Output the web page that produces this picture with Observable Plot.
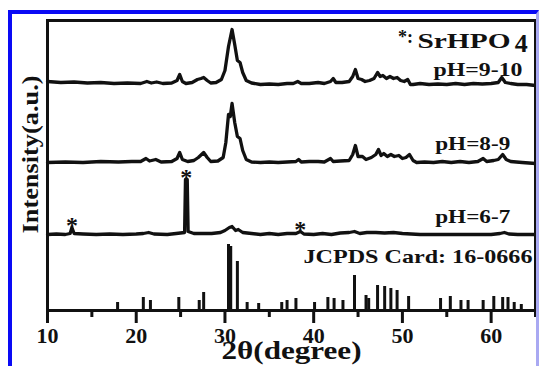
<!DOCTYPE html>
<html><head><meta charset="utf-8">
<script src="https://cdn.jsdelivr.net/npm/d3@7"></script>
<script src="https://cdn.jsdelivr.net/npm/@observablehq/plot@0.6"></script>
<style>
body{margin:0;background:#fff}
#wrap{position:relative;width:539px;height:366px;overflow:hidden;background:#fff}
#wrap svg{display:block;position:absolute;left:0;top:0}
#blue{position:absolute;left:8px;top:10px;width:531px;height:360px;box-sizing:border-box;border-left:4px solid #0a0af5;border-top:4px solid #0a0af5;border-right:3px solid #a9a9f2;pointer-events:none}
</style></head><body><div id="wrap"><div id="blue"></div></div>
<script>
// ---- data ----
const seriesNames = ["pH=9-10", "pH=8-9", "pH=6-7"];
const seriesOffsets = [226, 148, 76];

const ph910 = [[10,3],[11.5,2],[13,2.5],[14.5,1.5],[16,2],[17.5,1],[19,1.5],[20.5,1],[21.2,3],[21.7,1.5],[22.3,2.5],[23,1],[24,1.5],[24.6,4],[24.9,10],[25.2,3],[25.6,1],[26.3,2],[26.9,5],[27.3,6],[27.6,7],[28.0,4],[28.4,1.5],[29.0,2],[29.6,5],[30.0,14],[30.4,38],[30.8,55],[31.1,40],[31.4,24],[31.7,22],[32.0,12],[32.4,4],[33,1.5],[34,0],[35,0.5],[36,0],[37,1],[37.7,1],[38.2,3],[38.6,1],[39.5,1],[40.5,2],[41.2,1],[41.9,3],[42.2,6],[42.5,2],[43.2,2],[44,3],[44.4,8],[44.7,15],[45.0,6],[45.4,5],[45.8,3],[46.3,4],[46.8,6],[47.2,12],[47.5,8],[47.8,9],[48.2,6],[48.6,8],[49.0,6],[49.4,7],[49.8,4],[50.2,3],[50.6,5],[50.9,0],[51.2,0],[52,1],[53,0],[54,0.5],[55,0],[56,1],[57,0],[58,1],[59,0.5],[60,1],[60.8,2],[61.2,7],[61.6,2],[62.2,1],[63,0],[64,0],[65,-1]];

const ph89 = [[10,0],[12,0.5],[14,0],[16,1],[18,0.5],[19.5,1],[20.5,1],[21.1,4],[21.5,1.5],[22.2,3],[22.8,0.5],[24,1],[24.6,4],[24.9,10],[25.2,3],[25.8,1],[26.5,2],[27.0,5],[27.6,10],[28.0,5],[28.4,1],[29.2,1.5],[29.8,5],[30.1,20],[30.4,48],[30.6,46],[30.8,59],[31.1,40],[31.4,26],[31.7,24],[32.0,12],[32.4,3],[33,0.5],[34,0],[35,0.5],[36,0],[37,0.5],[38,1],[38.3,3],[38.6,0.5],[39.5,1],[40.5,1],[41.2,0.5],[41.9,4],[42.2,1],[43,1.5],[44,2],[44.4,8],[44.7,17],[45.0,6],[45.5,6],[45.9,3],[46.5,5],[47.0,8],[47.3,13],[47.6,7],[47.9,9],[48.3,6],[48.7,8],[49.1,6],[49.6,7],[50.0,4],[50.4,5],[50.8,8],[51.2,2],[51.6,0],[52.5,0.5],[53.5,0],[54.5,1],[55.5,0],[56.5,1],[57.5,0],[58.5,1],[59.1,4],[59.5,1],[60.3,2],[60.8,3],[61.3,8],[61.7,3],[62.2,1],[63.5,0],[65,-1]];

const ph67 = [[10,0],[11,0.5],[12,0],[12.55,1],[12.75,7],[13.0,1],[14,0.5],[15.5,0],[17,0.5],[18.5,0],[20,0.5],[20.8,1],[21.4,2],[22,0.5],[23.5,0],[24.5,1],[25.45,2],[25.55,55],[25.75,55],[25.85,3],[26.5,1],[27.5,1],[28.5,1],[29.5,2],[30.0,4],[30.5,7],[30.8,8],[31.2,4],[31.5,5],[32,2],[33,1],[34,0],[35,1],[36,0],[37,1],[38,1],[38.5,3],[38.9,0.5],[40,0],[41,1],[42,0],[43,1.5],[44,2],[44.6,3],[45.2,1],[46,2],[47,2],[48,1.5],[49,2],[50,1],[51,0.5],[52,0],[54,0],[56,0],[58,0],[60,0],[61,1],[61.5,2],[62,0.5],[63,0],[65,0]];

const jcpdsAngle = [17.9,20.8,21.6,24.8,27.1,27.6,30.4,30.65,31.4,32.5,33.8,36.4,37.0,38.0,40.1,41.6,42.3,43.3,44.6,45.9,46.2,47.2,48.0,48.7,49.4,50.7,54.3,55.4,56.6,57.4,59.1,60.3,61.3,61.9,62.6,63.4];
const jcpdsInt = [8,13,10,13,10,18,66,64,49,8,7,8,10,12,8,13,12,10,35,15,12,25,24,22,20,14,12,14,10,10,10,14,13,13,8,6];

const markerAngles = [12.75, 25.65, 38.5]; // SrHPO4 reflections in pH=6-7
const majorTicks = [10, 20, 30, 40, 50, 60];
const minorTicks = [15, 25, 35, 45, 55, 65];

// ---- build tables ----
const curves = [ph910, ph89, ph67];
const pts = [];
curves.forEach((c, i) => c.forEach(([a, v]) => pts.push({series: seriesNames[i], angle: a, y: seriesOffsets[i] + v})));
const sticks = jcpdsAngle.map((a, i) => ({angle: a, intensity: jcpdsInt[i]}));
const stars = markerAngles.map(a => {
  const near = pts.filter(p => p.series === "pH=6-7" && Math.abs(p.angle - a) <= 0.35);
  return {angle: a, y: d3.max(near, p => p.y)};
});

// annotation layout
const F = "'Liberation Serif','Times New Roman',serif";
const notes = [
  {text: "pH=9-10", x: 53.5, y: 235, size: 18, len: 89},
  {text: "pH=8-9", x: 53.7, y: 161, size: 18, len: 75},
  {text: "pH=6-7", x: 53.7, y: 88, size: 18, len: 75},
  {text: "JCPDS Card: 16-0666", x: 38.85, y: 48, size: 19, len: 229},
  {text: "SrHPO", x: 51.7, y: 263, size: 22, len: 93},
  {text: "4", x: 62.65, y: 259, size: 26, len: null},
  {text: "*:", x: 49.5, y: 268, size: 18, len: null}
];
const lengths = {"2θ(degree)": 140, "Intensity(a.u.)": 158};
notes.forEach(n => { if (n.len) lengths[n.text] = n.len; });

const marks = [
  Plot.ruleX(sticks, {x: "angle", y1: 0, y2: "intensity", stroke: "#111", strokeWidth: 3}),
  Plot.line(pts, {x: "angle", y: "y", z: "series", stroke: "#111", strokeWidth: 3.3, strokeLinejoin: "round", strokeLinecap: "round"}),
  Plot.text(stars, {x: "angle", y: "y", text: () => "*", fontSize: 24, lineAnchor: "bottom", dy: 5, fontFamily: F, fontWeight: "bold", fill: "#111"}),
  Plot.frame({stroke: "#111", strokeWidth: 3}),
  Plot.axisX({ticks: majorTicks, tickSize: 13, tickPadding: 4, strokeWidth: 3, fontSize: 22, fontWeight: "bold", fontFamily: F, fill: "#111", stroke: "#111", label: null}),
  Plot.axisX({ticks: minorTicks, tickSize: 7, strokeWidth: 3, tickFormat: () => "", stroke: "#111", label: null}),
  Plot.text(["2θ(degree)"], {frameAnchor: "bottom", lineAnchor: "bottom", dy: 48, fontSize: 25, fontWeight: "bold", fontFamily: F, fill: "#111"}),
  Plot.text(["Intensity(a.u.)"], {frameAnchor: "left", rotate: -90, textAnchor: "start", lineAnchor: "bottom", dx: -10, dy: 68, fontSize: 24, fontWeight: "bold", fontFamily: F, fill: "#111"})
];
notes.forEach(n => marks.push(Plot.text([n], {x: "x", y: "y", text: "text", textAnchor: "start", lineAnchor: "bottom", fontSize: n.size, fontWeight: "bold", fontFamily: F, fill: "#111"})));

const svg = Plot.plot({
  width: 539, height: 366,
  marginLeft: 47, marginRight: 4, marginTop: 20, marginBottom: 56,
  x: {domain: [10, 65], label: null},
  y: {domain: [0, 290], axis: null},
  style: {fontFamily: F, background: "transparent", overflow: "visible"},
  marks
});
d3.select(svg).selectAll("text").each(function () {
  const t = this.textContent;
  if (lengths[t]) { this.setAttribute("textLength", lengths[t]); this.setAttribute("lengthAdjust", "spacingAndGlyphs"); }
});
const wrap = document.getElementById("wrap");
wrap.insertBefore(svg, document.getElementById("blue"));
</script>
</body></html>
